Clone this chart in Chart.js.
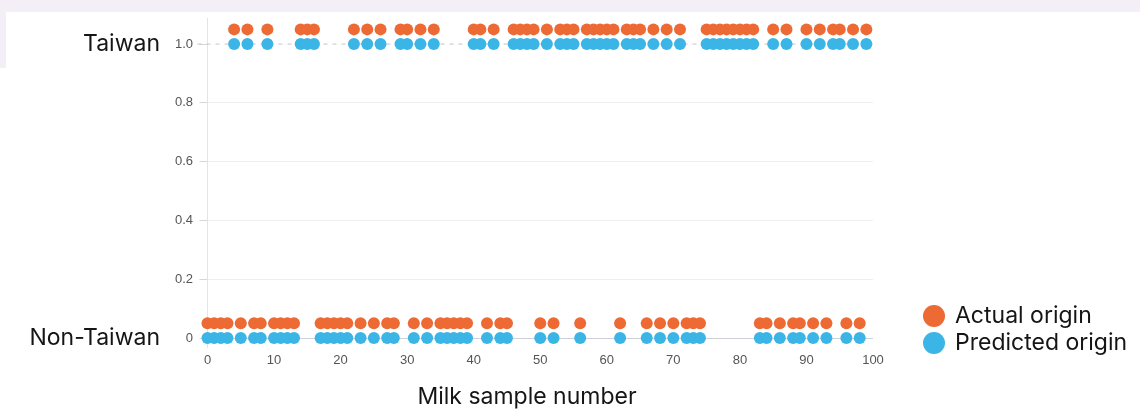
<!DOCTYPE html>
<html>
<head>
<meta charset="utf-8">
<script src="https://cdn.jsdelivr.net/npm/chart.js@4.4.1/dist/chart.umd.min.js"></script>
<style>
  html, body { margin: 0; padding: 0; background: #fff; }
  #wrap { position: relative; width: 1140px; height: 409px; overflow: hidden; background: #fff; }
  #topband { position: absolute; left: 0; top: 0; width: 1140px; height: 12px; background: #f4eef6; }
  #leftband { position: absolute; left: 0; top: 0; width: 6px; height: 68px; background: #f4eef6; }
  #milkChart { position: absolute; left: 0; top: 0; }
  #xtitle { position: absolute; left: 327px; top: 382px; width: 400px; text-align: center;
            font: 23px Inter, 'Noto Sans', sans-serif; color: #151515; }
  #legend { position: absolute; left: 923px; top: 302px; font: 23px Inter, 'Noto Sans', sans-serif; color: #151515; }
  #legend .item { height: 27px; line-height: 27px; white-space: nowrap; }
  #legend .dot { display: inline-block; width: 22px; height: 22px; border-radius: 50%;
                 vertical-align: -4px; margin-right: 10px; }
</style>
</head>
<body>
<div id="wrap">
  <div id="topband"></div>
  <div id="leftband"></div>
  <canvas id="milkChart" width="1140" height="409"></canvas>
  <div id="xtitle">Milk sample number</div>
  <div id="legend"></div>
</div>
<script>
// origin per milk sample, 1 = Taiwan, 0 = Non-Taiwan (samples 0..99)
var actualOrigin = [
  0, 0, 0, 0, 1, 0, 1, 0, 0, 1,
  0, 0, 0, 0, 1, 1, 1, 0, 0, 0,
  0, 0, 1, 0, 1, 0, 1, 0, 0, 1,
  1, 0, 1, 0, 1, 0, 0, 0, 0, 0,
  1, 1, 0, 1, 0, 0, 1, 1, 1, 1,
  0, 1, 0, 1, 1, 1, 0, 1, 1, 1,
  1, 1, 0, 1, 1, 1, 0, 1, 0, 1,
  0, 1, 0, 0, 0, 1, 1, 1, 1, 1,
  1, 1, 1, 0, 0, 1, 0, 1, 0, 0,
  1, 0, 1, 0, 1, 1, 0, 1, 0, 1
];
var predictedOrigin = [
  0, 0, 0, 0, 1, 0, 1, 0, 0, 1,
  0, 0, 0, 0, 1, 1, 1, 0, 0, 0,
  0, 0, 1, 0, 1, 0, 1, 0, 0, 1,
  1, 0, 1, 0, 1, 0, 0, 0, 0, 0,
  1, 1, 0, 1, 0, 0, 1, 1, 1, 1,
  0, 1, 0, 1, 1, 1, 0, 1, 1, 1,
  1, 1, 0, 1, 1, 1, 0, 1, 0, 1,
  0, 1, 0, 0, 0, 1, 1, 1, 1, 1,
  1, 1, 1, 0, 0, 1, 0, 1, 0, 0,
  1, 0, 1, 0, 1, 1, 0, 1, 0, 1
];
var seriesLabels = ['Actual origin', 'Predicted origin'];
var yTickValues = [0, 0.2, 0.4, 0.6, 0.8, 1.0];
var yTickLabels = ['0', '0.2', '0.4', '0.6', '0.8', '1.0'];
var originValues = [0, 1];
var originLabels = ['Non-Taiwan', 'Taiwan'];
var xTickStep = 10;

var ACTUAL_SHIFT = 0.05; // actual row is lifted a little above the predicted row
var Y_MIN = -0.0305;
var Y_MAX = 1.086;
var orange = '#ee6a34';
var blue = '#3bb5e6';

function toPoints(values, shift) {
  return values.map(function (v, i) { return { x: i, y: v + shift }; });
}

// dashed reference line at the Taiwan level
var taiwanLine = {
  id: 'taiwanLine',
  beforeDatasetsDraw: function (chart) {
    var area = chart.chartArea;
    var y = chart.scales.y.getPixelForValue(1);
    var ctx = chart.ctx;
    ctx.save();
    ctx.strokeStyle = '#c4c4c8';
    ctx.lineWidth = 1;
    ctx.setLineDash([4, 5]);
    ctx.beginPath();
    ctx.moveTo(area.left - 10, y);
    ctx.lineTo(area.right, y);
    ctx.stroke();
    ctx.restore();
  }
};

Chart.defaults.font.family = "'Liberation Sans', Arial, sans-serif";

function createOriginChart() {
  var ctx = document.getElementById('milkChart').getContext('2d');
  return new Chart(ctx, {
    type: 'scatter',
    data: {
      datasets: [
        {
          label: seriesLabels[0],
          data: toPoints(actualOrigin, ACTUAL_SHIFT),
          backgroundColor: orange,
          borderWidth: 0,
          pointRadius: 6,
          clip: false,
        },
        {
          label: seriesLabels[1],
          data: toPoints(predictedOrigin, 0),
          backgroundColor: blue,
          borderWidth: 0,
          pointRadius: 6,
          clip: false,
        },
      ],
    },
    options: {
      responsive: false,
      animation: false,
      layout: { padding: { top: 9.5, right: 267, bottom: 0, left: 0 } },
      plugins: {
        legend: { display: false },
        tooltip: { enabled: false },
      },
      scales: {
        x: {
          type: 'linear',
          min: 0,
          max: 100,
          ticks: { stepSize: xTickStep, color: '#555', font: { size: 13 }, padding: 5.5 },
          grid: { display: false, drawTicks: false },
          border: { display: false },
          afterFit: function (scale) { scale.height = 62; },
        },
        y: {
          position: 'left',
          weight: 0,
          min: Y_MIN,
          max: Y_MAX,
          afterBuildTicks: function (scale) {
            scale.ticks = yTickValues.map(function (v) { return { value: v }; });
          },
          ticks: {
            color: '#555',
            font: { size: 13 },
            padding: 6.5,
            callback: function (value) {
              var i = yTickValues.indexOf(value);
              return i >= 0 ? yTickLabels[i] : '';
            },
          },
          grid: {
            color: function (c) {
              if (c.tick && c.tick.value === 0) return '#cfd1da';
              if (c.tick && c.tick.value === 1) return 'rgba(0,0,0,0)';
              return '#efefef';
            },
            tickColor: '#d6d6d6',
            tickLength: 8,
          },
          border: { display: true, color: '#e4e4e4' },
          afterFit: function (scale) { scale.width = 42.5; },
        },
        y2: {
          position: 'left',
          weight: 1,
          min: Y_MIN,
          max: Y_MAX,
          afterBuildTicks: function (scale) {
            scale.ticks = originValues.map(function (v) { return { value: v }; });
          },
          ticks: {
            color: '#151515',
            font: { size: 23, family: "Inter, 'Noto Sans', sans-serif" },
            padding: 5,
            callback: function (value) {
              var i = originValues.indexOf(value);
              return i >= 0 ? originLabels[i] : '';
            },
          },
          grid: { display: false, drawTicks: false },
          border: { display: false },
          afterFit: function (scale) { scale.width = 165; },
        },
      },
    },
    plugins: [taiwanLine],
  });
}

var originChart = createOriginChart();

// html legend built from the datasets
var legendBox = document.getElementById('legend');
originChart.data.datasets.forEach(function (ds) {
  var item = document.createElement('div');
  item.className = 'item';
  var dot = document.createElement('span');
  dot.className = 'dot';
  dot.style.background = ds.backgroundColor;
  item.appendChild(dot);
  item.appendChild(document.createTextNode(ds.label));
  legendBox.appendChild(item);
});
</script>
</body>
</html>
